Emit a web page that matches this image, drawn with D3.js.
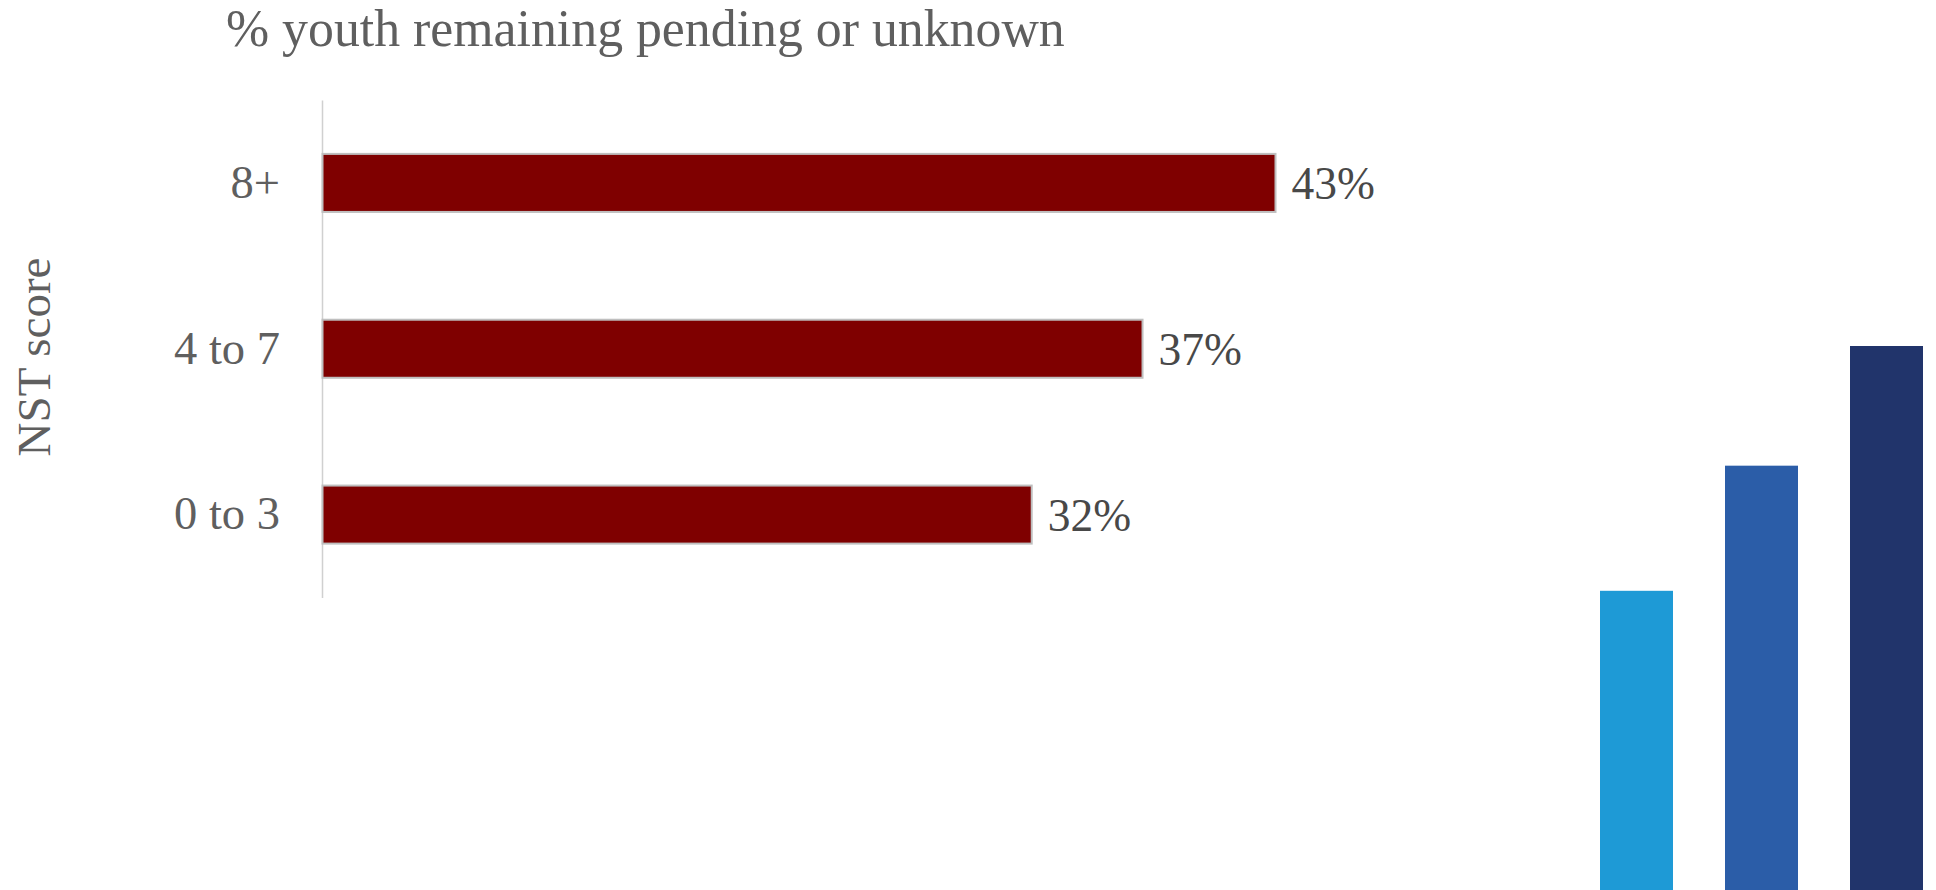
<!DOCTYPE html>
<html>
<head>
<meta charset="utf-8">
<script src="https://cdnjs.cloudflare.com/ajax/libs/d3/7.8.5/d3.min.js"></script>
<style>
  html, body { margin: 0; padding: 0; background: #fff; overflow: hidden; }
  svg { display: block; }
  text { font-family: "Liberation Serif", serif; }
</style>
</head>
<body>
<svg id="chart" width="1936" height="890"></svg>
<script>
// NST score groups and the share of youth remaining pending or unknown
const scoreGroups = ["8+", "4 to 7", "0 to 3"];
const pendingShare = [43, 37, 32];
const titleText = "% youth remaining pending or unknown";
const axisTitle = "NST score";

// Decorative rising bars in the lower right corner
const cornerKeys = ["low", "mid", "high"];
const cornerValues = [55, 78, 100];
const cornerColors = ["#1e9ad6", "#2b5da8", "#21346b"];

const svg = d3.select("#chart");

const x = d3.scaleLinear().domain([0, 43]).range([322.5, 1275.5]);
const y = d3.scaleBand().domain(scoreGroups).range([100, 597.5]).paddingInner(0.65).paddingOuter(0.325);

// Category axis: vertical rule with right-aligned labels and no tick marks
const yAxis = svg.append("g")
  .attr("transform", `translate(${x(0) - 0.5},0)`)
  .call(d3.axisLeft(y).tickSize(0).tickPadding(42));
yAxis.select(".domain").attr("stroke", "#d0d0d0").attr("stroke-width", 1.5);
yAxis.selectAll("text")
  .style("font-family", '"Liberation Serif", serif')
  .style("font-size", "46.5px")
  .attr("fill", "#5f5f5f");

// Horizontal bars
svg.append("g").selectAll("rect")
  .data(pendingShare)
  .join("rect")
  .attr("x", x(0))
  .attr("y", (d, i) => y(scoreGroups[i]))
  .attr("width", d => x(d) - x(0))
  .attr("height", y.bandwidth())
  .attr("fill", "#7f0000")
  .attr("stroke", "#bfbfbf")
  .attr("stroke-width", 2);

// Value labels at the bar ends
svg.append("g").selectAll("text")
  .data(pendingShare)
  .join("text")
  .attr("x", d => x(d) + 16)
  .attr("y", (d, i) => y(scoreGroups[i]) + y.bandwidth() / 2)
  .attr("dy", "0.35em")
  .attr("font-size", 45.5)
  .attr("fill", "#484848")
  .text(d => d + "%");

// Chart title
svg.append("text")
  .attr("x", 226)
  .attr("y", 46)
  .attr("font-size", 51.8)
  .attr("fill", "#5f5f5f")
  .text(titleText);

// Rotated axis title
svg.append("text")
  .attr("transform", "translate(50,357) rotate(-90)")
  .attr("text-anchor", "middle")
  .attr("font-size", 47)
  .attr("fill", "#5f5f5f")
  .text(axisTitle);

// Corner bars, running off the bottom of the page
const cx = d3.scaleBand().domain(cornerKeys).range([1600, 1923]).paddingInner(0.416).paddingOuter(0);
const cy = d3.scaleLinear().domain([0, 100]).range([890, 346]);
svg.append("g").selectAll("rect")
  .data(cornerValues)
  .join("rect")
  .attr("x", (d, i) => cx(cornerKeys[i]))
  .attr("y", d => cy(d))
  .attr("width", cx.bandwidth())
  .attr("height", d => cy(0) - cy(d))
  .attr("fill", (d, i) => cornerColors[i]);
</script>
</body>
</html>
